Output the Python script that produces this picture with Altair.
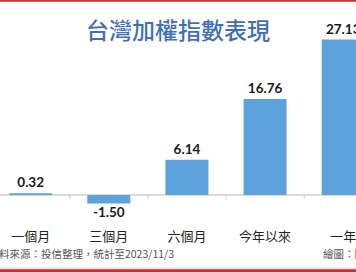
import altair as alt
import pandas as pd

categories = ["一個月", "三個月", "六個月", "今年以來", "一年"]
values = [0.32, -1.50, 6.14, 16.76, 27.13]
value_labels = ["0.32", "-1.50", "6.14", "16.76", "27.13"]
title_text = "台灣加權指數表現"
source_text = "資料來源：投信整理，統計至2023/11/3"
credit_text = "繪圖：陳昱光"

df = pd.DataFrame({
    "cat": categories,
    "idx": list(range(len(categories))),
    "val": values,
    "lab": value_labels,
})
ticks = pd.DataFrame({"t": [i + 0.5 for i in range(len(categories) - 1)]})

W, H = 356, 272
CJK = "Noto Sans CJK TC"
NUM = "Lato"

xs = alt.Scale(domain=[-0.3284, 4.0995], nice=False, zero=False)
ys = alt.Scale(domain=[-13.44, 34.04], nice=False, zero=False)

base = alt.Chart(df)

bars = base.mark_bar(size=43, color="#5da2dd").encode(
    x=alt.X("idx:Q", scale=xs, axis=None),
    y=alt.Y("val:Q", scale=ys, axis=None),
    y2=alt.datum(0),
)

zero_line = alt.Chart(pd.DataFrame({"z": [0]})).mark_rule(color="#cfcfcf", strokeWidth=1.5).encode(
    y=alt.Y("z:Q", scale=ys, axis=None)
)

tick_marks = alt.Chart(ticks).mark_rule(color="#cfcfcf", strokeWidth=1).encode(
    x=alt.X("t:Q", scale=xs, axis=None),
    y=alt.value(195),
    y2=alt.value(199),
)

pos_labels = base.transform_filter("datum.val >= 0").mark_text(
    font=NUM, fontSize=13.5, fontWeight="bold", color="#1a1a1a", baseline="middle", dy=-10
).encode(
    x=alt.X("idx:Q", scale=xs, axis=None),
    y=alt.Y("val:Q", scale=ys, axis=None),
    text="lab:N",
)

neg_labels = base.transform_filter("datum.val < 0").mark_text(
    font=NUM, fontSize=13.5, fontWeight="bold", color="#1a1a1a", baseline="middle", dy=9
).encode(
    x=alt.X("idx:Q", scale=xs, axis=None),
    y=alt.Y("val:Q", scale=ys, axis=None),
    text="lab:N",
)

cat_labels = base.mark_text(
    font=CJK, fontSize=13, color="#222222", baseline="middle"
).encode(
    x=alt.X("idx:Q", scale=xs, axis=None),
    y=alt.value(236.5),
    text="cat:N",
)

title = alt.Chart(pd.DataFrame({"t": [title_text]})).mark_text(
    font=CJK, fontSize=23, color="#3f6fb8", baseline="middle", align="center", fontWeight=500
).encode(x=alt.value(178), y=alt.value(32), text="t:N")

source = alt.Chart(pd.DataFrame({"t": [source_text]})).mark_text(
    font=CJK, fontSize=10.5, color="#555555", baseline="middle", align="right"
).encode(x=alt.value(174), y=alt.value(255), text="t:N")

credit = alt.Chart(pd.DataFrame({"t": [credit_text]})).mark_text(
    font=CJK, fontSize=10.5, color="#555555", baseline="middle", align="left"
).encode(x=alt.value(323), y=alt.value(255), text="t:N")

top_red = alt.Chart(pd.DataFrame({"a": [0]})).mark_rect(color="#d9262e").encode(
    x=alt.value(0), x2=alt.value(W), y=alt.value(0), y2=alt.value(1.8)
)
bottom_gray = alt.Chart(pd.DataFrame({"a": [0]})).mark_rect(color="#dfe3ea").encode(
    x=alt.value(0), x2=alt.value(W), y=alt.value(267.8), y2=alt.value(269.3)
)
bottom_red = alt.Chart(pd.DataFrame({"a": [0]})).mark_rect(color="#d9262e").encode(
    x=alt.value(0), x2=alt.value(W), y=alt.value(269.3), y2=alt.value(H)
)

chart = alt.layer(
    zero_line, tick_marks, bars, pos_labels, neg_labels, cat_labels,
    title, source, credit, top_red, bottom_gray, bottom_red
).properties(
    width=W, height=H, autosize=alt.AutoSizeParams(type="none"), padding=0,
    background="white",
).configure_view(stroke=None)

chart.save("out.html", embed_options={"renderer": "svg", "actions": False})
